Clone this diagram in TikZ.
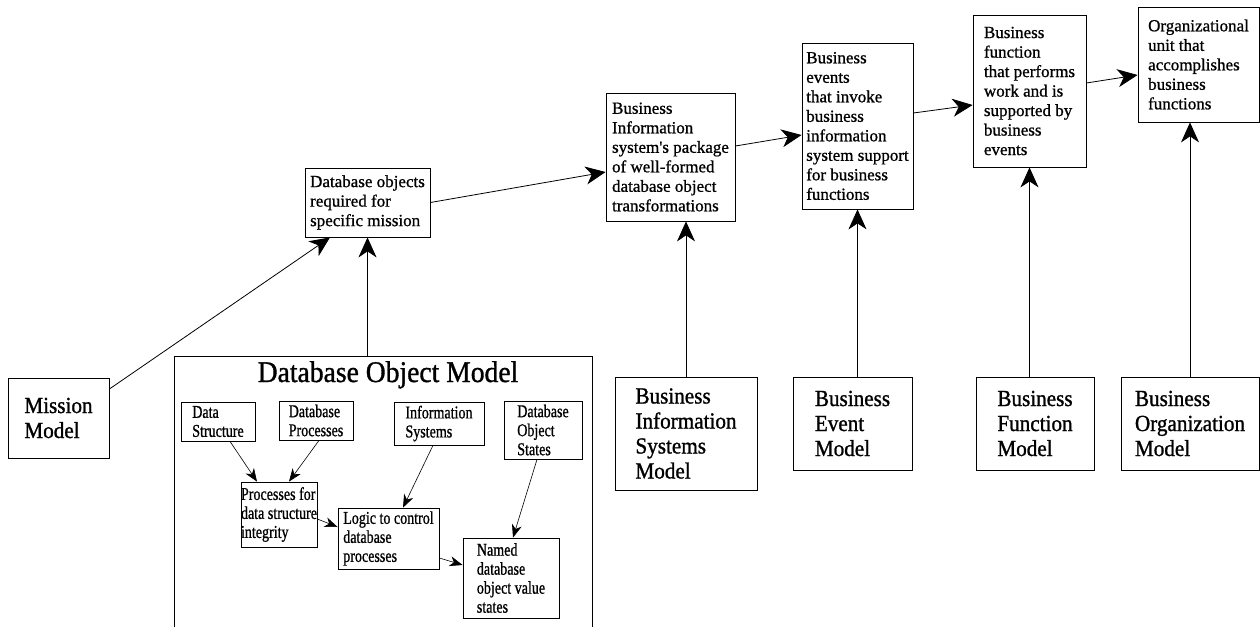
\documentclass[tikz,border=0pt]{standalone}
\usepackage{fontspec}
\setmainfont{Liberation Serif}
\newfontfamily\notefont{Liberation Serif}[FakeBold=0.9]
\newfontfamily\condfont{Liberation Serif}[FakeStretch=0.78,FakeBold=0.9]
\newfontfamily\modelfont{Liberation Serif}[FakeStretch=0.92,FakeBold=1.1]
\usetikzlibrary{arrows.meta}

\begin{document}
\begin{tikzpicture}[x=1pt, y=-1pt,
  box/.style={draw, line width=0.8pt, inner sep=0pt, align=left},
  model/.style={box, font=\modelfont\fontsize{23}{25}\selectfont},
  note/.style={box, font=\notefont\fontsize{17}{19.5}\selectfont},
  part/.style={box, font=\condfont\fontsize{18}{19}\selectfont},
  big arrow/.style={line width=0.8pt, -{Stealth[length=20pt,width=18pt,inset=6pt]}},
  small arrow/.style={line width=0.6pt, -{Stealth[length=13pt,width=10pt,inset=4pt]}}]

\useasboundingbox (0,0) rectangle (1260,626);
\clip (0,0) rectangle (1260,626);

% Models along the bottom
\node[model, minimum width=101pt, minimum height=80pt]  (mission) at (58.5,418)   {Mission\\Model};
\node[model, minimum width=142pt, minimum height=113pt] (bism)    at (686,433.5)  {Business\\Information\\Systems\\Model};
\node[model, minimum width=119pt, minimum height=93pt]  (bem)     at (852.5,423.5) {Business\\Event\\Model};
\node[model, minimum width=118pt, minimum height=93pt]  (bfm)     at (1035,423.5) {Business\\Function\\Model};
\node[model, minimum width=138pt, minimum height=93pt]  (bom)     at (1190,423.5) {Business\\Organization\\Model};

% Descriptions along the top
\node[note, minimum width=125pt, minimum height=69pt]  (dosm) at (367.5,202.5) {Database objects\\required for\\specific mission};
\node[note, minimum width=129pt, minimum height=128pt] (bis)  at (670.5,157)   {Business\\Information\\system\textquotesingle s package\\of well-formed\\database object\\transformations};
\node[note, minimum width=111pt, minimum height=166pt] (be)   at (857.5,126)   {Business\\events\\that invoke\\business\\information\\system support\\for business\\functions};
\node[note, minimum width=113pt, minimum height=152pt] (bf)   at (1029.5,91)   {Business\\function\\that performs\\work and is\\supported by\\business\\events};
\node[note, minimum width=121pt, minimum height=115pt] (org)  at (1198.5,64.5) {Organizational\\unit that\\accomplishes\\business\\functions};

% Database Object Model
\node[box, anchor=north west, minimum width=418pt, minimum height=300pt] (dom) at (174,356) {};
\node[font=\modelfont\fontsize{30}{30}\selectfont, anchor=base] (domtitle) at (388,382) {Database Object Model};

\node[part, minimum width=74pt,  minimum height=39pt] (ds)  at (218,421.5) {Data\\Structure};
\node[part, minimum width=74pt,  minimum height=39pt] (dp)  at (316,420.5) {Database\\Processes};
\node[part, minimum width=90pt,  minimum height=43pt] (is)  at (439,423.5) {Information\\Systems};
\node[part, minimum width=78pt,  minimum height=58pt] (dos) at (543,430)   {Database\\Object\\States};
\node[part, minimum width=76pt,  minimum height=65pt] (pf)  at (279,514.5) {Processes for\\data structure\\integrity};
\node[part, minimum width=101pt, minimum height=61pt] (lc)  at (388.5,538.5) {Logic to control\\database\\processes};
\node[part, minimum width=96pt,  minimum height=80pt] (nd)  at (511,578)   {Named\\database\\object value\\states};

% Top chain
\draw[big arrow] ([yshift=29pt]mission.east) -- ([xshift=-37.5pt]dosm.south);
\draw[big arrow] (dosm.south |- dom.north) -- (dosm.south);
\draw[big arrow] (dosm.east) -- ([yshift=-15pt]bis.west);
\draw[big arrow] ([yshift=11pt]bis.east) -- ([yshift=-9pt]be.west);
\draw[big arrow] ([yshift=13pt]be.east) -- ([yshift=-14pt]bf.west);
\draw[big arrow] ([yshift=8pt]bf.east) -- ([yshift=-10.5pt]org.west);

% Models up to descriptions
\draw[big arrow] (bism.north) -- (bism.north |- bis.south);
\draw[big arrow] (be.south |- bem.north) -- (be.south);
\draw[big arrow] (bf.south |- bfm.north) -- (bf.south);
\draw[big arrow] (bom.north) -- (bom.north |- org.south);

% Inside the object model
\draw[small arrow] ([xshift=12pt]ds.south) -- ([xshift=-22pt]pf.north);
\draw[small arrow] ([xshift=3pt]dp.south) -- ([xshift=10pt]pf.north);
\draw[small arrow] ([xshift=-6pt]is.south) -- ([xshift=14.5pt]lc.north);
\draw[small arrow] ([yshift=-4.5pt]pf.east) -- ([yshift=11.5pt]lc.west);
\draw[small arrow] ([yshift=-19.5pt]lc.east) -- ([yshift=13pt]nd.west);
\draw[small arrow] ([xshift=-6pt]dos.south) -- ([xshift=2pt]nd.north);

\end{tikzpicture}
\end{document}
